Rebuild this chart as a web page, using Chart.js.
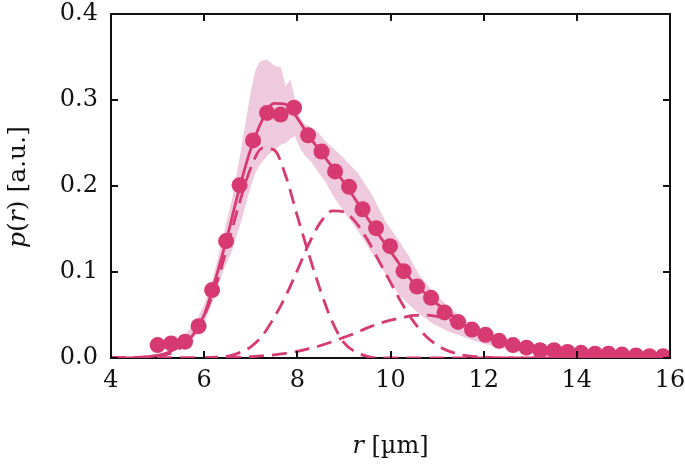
<!DOCTYPE html>
<html lang="en">
<head>
    <meta charset="UTF-8">
    <title>p(r)</title>
    <script src="https://cdn.jsdelivr.net/npm/chart.js"></script>
    <style>
        body { margin: 0; background: #fff; }
    </style>
</head>
<body>
    <canvas id="chart" width="685" height="468"></canvas>
    <script>
        // measured points
        const dotX = [5.0, 5.29, 5.59, 5.88, 6.17, 6.47, 6.76, 7.05, 7.35, 7.64, 7.93, 8.23, 8.52, 8.81, 9.11, 9.40,
            9.69, 9.99, 10.28, 10.57, 10.87, 11.16, 11.45, 11.75, 12.04, 12.33, 12.63, 12.92, 13.21, 13.51, 13.80,
            14.09, 14.39, 14.68, 14.97, 15.27, 15.56, 15.85];
        const dotY = [0.015, 0.017, 0.019, 0.037, 0.079, 0.136, 0.201, 0.253, 0.285, 0.283, 0.291, 0.259, 0.240,
            0.217, 0.199, 0.173, 0.151, 0.130, 0.101, 0.083, 0.070, 0.053, 0.042, 0.033, 0.027, 0.020, 0.015, 0.012,
            0.009, 0.009, 0.007, 0.006, 0.005, 0.005, 0.004, 0.003, 0.002, 0.002];

        // shaded spread
        const bandX = [5.0, 5.5, 5.8, 6.0, 6.2, 6.4, 6.6, 6.8, 7.0, 7.1, 7.2, 7.35, 7.5, 7.65, 7.75, 7.85, 7.95, 8.05,
            8.15, 8.3, 8.45, 8.6, 8.75, 9.0, 9.3, 9.6, 9.9, 10.2, 10.4, 10.6, 10.9, 11.2, 11.5, 11.8, 12.1, 12.4, 12.7, 13.0];
        const bandUpper = [0.016, 0.022, 0.04, 0.062, 0.095, 0.14, 0.185, 0.245, 0.31, 0.335, 0.345, 0.347, 0.34,
            0.338, 0.316, 0.324, 0.302, 0.28, 0.272, 0.268, 0.262, 0.252, 0.245, 0.232, 0.215, 0.19, 0.158, 0.135,
            0.118, 0.098, 0.078, 0.062, 0.048, 0.038, 0.03, 0.024, 0.018, 0.013];
        const bandLower = [0.012, 0.014, 0.025, 0.04, 0.068, 0.1, 0.125, 0.16, 0.2, 0.215, 0.225, 0.235, 0.242,
            0.248, 0.25, 0.255, 0.258, 0.245, 0.236, 0.228, 0.216, 0.205, 0.19, 0.17, 0.148, 0.122, 0.097, 0.072,
            0.062, 0.052, 0.04, 0.032, 0.026, 0.02, 0.015, 0.011, 0.009, 0.006];

        // fit curves
        const curveX = [4, 4.5, 5, 5.25, 5.5, 5.75, 6, 6.25, 6.5, 6.75, 7, 7.25, 7.5, 7.75, 8, 8.25, 8.5, 8.75, 9,
            9.25, 9.5, 9.75, 10, 10.25, 10.5, 10.75, 11, 11.25, 11.5, 11.75, 12, 12.5, 13, 13.5, 14, 15, 16];
        const fitTotal = [0, 0.0005, 0.003, 0.007, 0.014, 0.026, 0.05, 0.093, 0.142, 0.196, 0.243, 0.277, 0.296,
            0.295, 0.279, 0.258, 0.240, 0.222, 0.204, 0.184, 0.163, 0.143, 0.124, 0.105, 0.087, 0.075, 0.063, 0.053,
            0.041, 0.034, 0.028, 0.017, 0.01, 0.006, 0.003, 0.001, 0];
        const fitPeak1 = [0, 0, 0.002, 0.005, 0.012, 0.025, 0.049, 0.084, 0.13, 0.179, 0.221, 0.244, 0.242, 0.212,
            0.165, 0.12, 0.078, 0.042, 0.018, 0.007, 0.002, 0, 0, 0, 0, 0, 0, 0, 0, 0, 0, 0, 0, 0, 0, 0, 0];
        const fitPeak2 = [0, 0, 0, 0, 0, 0, 0.0003, 0.001, 0.002, 0.006, 0.013, 0.026, 0.047, 0.072, 0.102, 0.133,
            0.158, 0.171, 0.17, 0.158, 0.138, 0.113, 0.088, 0.063, 0.042, 0.026, 0.015, 0.008, 0.004, 0.002, 0.001,
            0, 0, 0, 0, 0, 0];
        const fitPeak3 = [0, 0, 0, 0, 0.0001, 0.0001, 0.0002, 0.0004, 0.0006, 0.001, 0.0015, 0.0025, 0.0037, 0.0055,
            0.0078, 0.011, 0.0145, 0.019, 0.024, 0.029, 0.035, 0.04, 0.044, 0.047, 0.0495, 0.05, 0.0485, 0.045, 0.04,
            0.034, 0.028, 0.016, 0.008, 0.0033, 0.0011, 0.0001, 0];

        const xTicks = [4, 6, 8, 10, 12, 14, 16];
        const yTicks = [0, 0.1, 0.2, 0.3, 0.4];

        const pink = 'rgb(214, 58, 112)';
        const pinkLight = 'rgb(239, 202, 222)';
        const fontFamily = "'DejaVu Serif', serif";

        const pts = (xs, ys) => xs.map((v, i) => ({ x: v, y: ys[i] }));

        const dashed = (ys, order) => ({
            data: pts(curveX, ys),
            showLine: true,
            borderColor: pink,
            borderWidth: 2.8,
            borderDash: [15, 8],
            pointRadius: 0,
            cubicInterpolationMode: 'monotone',
            fill: false,
            order: order
        });

        // mixed italic / upright text
        function drawParts(ctx, parts, cx, cy, size) {
            let total = 0;
            parts.forEach(p => {
                ctx.font = (p[1] ? 'italic ' : '') + size + 'px ' + fontFamily;
                total += ctx.measureText(p[0]).width;
            });
            let x = cx - total / 2;
            parts.forEach(p => {
                ctx.font = (p[1] ? 'italic ' : '') + size + 'px ' + fontFamily;
                ctx.fillText(p[0], x, cy);
                x += ctx.measureText(p[0]).width;
            });
        }

        const frame = {
            id: 'frame',
            beforeDatasetsDraw(chart) {
                const { ctx, chartArea: a } = chart;
                ctx.save();
                ctx.strokeStyle = '#111';
                ctx.lineWidth = 2;
                ctx.strokeRect(a.left, a.top, a.right - a.left, a.bottom - a.top);
                ctx.restore();
            },
            afterDraw(chart) {
                const { ctx, chartArea: a, scales: { x, y } } = chart;
                ctx.save();
                ctx.strokeStyle = '#111';
                ctx.lineWidth = 2;
                ctx.beginPath();
                xTicks.forEach(v => {
                    const px = Math.round(x.getPixelForValue(v));
                    ctx.moveTo(px, a.bottom); ctx.lineTo(px, a.bottom - 7);
                    ctx.moveTo(px, a.top); ctx.lineTo(px, a.top + 7);
                });
                yTicks.forEach(v => {
                    const py = Math.round(y.getPixelForValue(v));
                    ctx.moveTo(a.left, py); ctx.lineTo(a.left + 7, py);
                    ctx.moveTo(a.right, py); ctx.lineTo(a.right - 7, py);
                });
                ctx.stroke();

                ctx.fillStyle = '#111';
                ctx.textBaseline = 'middle';
                ctx.textAlign = 'left';
                drawParts(ctx, [['r', true], [' [µm]', false]], (a.left + a.right) / 2, 447, 24);
                ctx.translate(18, (a.top + a.bottom) / 2 + 1);
                ctx.rotate(-Math.PI / 2);
                drawParts(ctx, [['p', true], ['(', false], ['r', true], [') [a.u.]', false]], 0, 0, 25);
                ctx.restore();
            }
        };

        const config = {
            type: 'scatter',
            data: {
                datasets: [
                    {
                        data: pts(bandX, bandLower),
                        showLine: true,
                        borderWidth: 0,
                        borderColor: 'rgba(0,0,0,0)',
                        pointRadius: 0,
                        fill: false,
                        order: 6
                    },
                    {
                        data: pts(bandX, bandUpper),
                        showLine: true,
                        borderWidth: 0,
                        borderColor: 'rgba(0,0,0,0)',
                        backgroundColor: pinkLight,
                        pointRadius: 0,
                        fill: '-1',
                        order: 5
                    },
                    dashed(fitPeak1, 4),
                    dashed(fitPeak2, 3),
                    dashed(fitPeak3, 2),
                    {
                        data: pts(curveX, fitTotal),
                        showLine: true,
                        borderColor: pink,
                        borderWidth: 2.8,
                        pointRadius: 0,
                        cubicInterpolationMode: 'monotone',
                        order: 1
                    },
                    {
                        data: pts(dotX, dotY),
                        backgroundColor: pink,
                        borderWidth: 0,
                        pointRadius: 8,
                        order: 0
                    }
                ]
            },
            options: {
                responsive: false,
                animation: false,
                layout: { padding: { top: 14, right: 15, left: 0, bottom: 0 } },
                plugins: {
                    legend: { display: false },
                    tooltip: { enabled: false }
                },
                scales: {
                    x: {
                        type: 'linear',
                        min: 4,
                        max: 16,
                        grid: { display: false, drawTicks: false },
                        border: { display: false },
                        ticks: {
                            padding: 8,
                            color: '#111',
                            font: { family: fontFamily, size: 24 }
                        },
                        afterBuildTicks: s => { s.ticks = xTicks.map(v => ({ value: v })); },
                        afterFit: s => { s.height = 110; s.paddingLeft = 0; s.paddingRight = 0; }
                    },
                    y: {
                        min: 0,
                        max: 0.4,
                        grid: { display: false, drawTicks: false },
                        border: { display: false },
                        ticks: {
                            padding: 13,
                            color: '#111',
                            font: { family: fontFamily, size: 24 },
                            callback: v => v.toFixed(1)
                        },
                        afterBuildTicks: s => { s.ticks = yTicks.map(v => ({ value: v })); },
                        afterFit: s => { s.width = 111; s.paddingTop = 0; s.paddingBottom = 0; }
                    }
                }
            },
            plugins: [frame]
        };

        const ctx = document.querySelector('#chart').getContext('2d');
        const myChart = new Chart(ctx, config);
    </script>
</body>
</html>
